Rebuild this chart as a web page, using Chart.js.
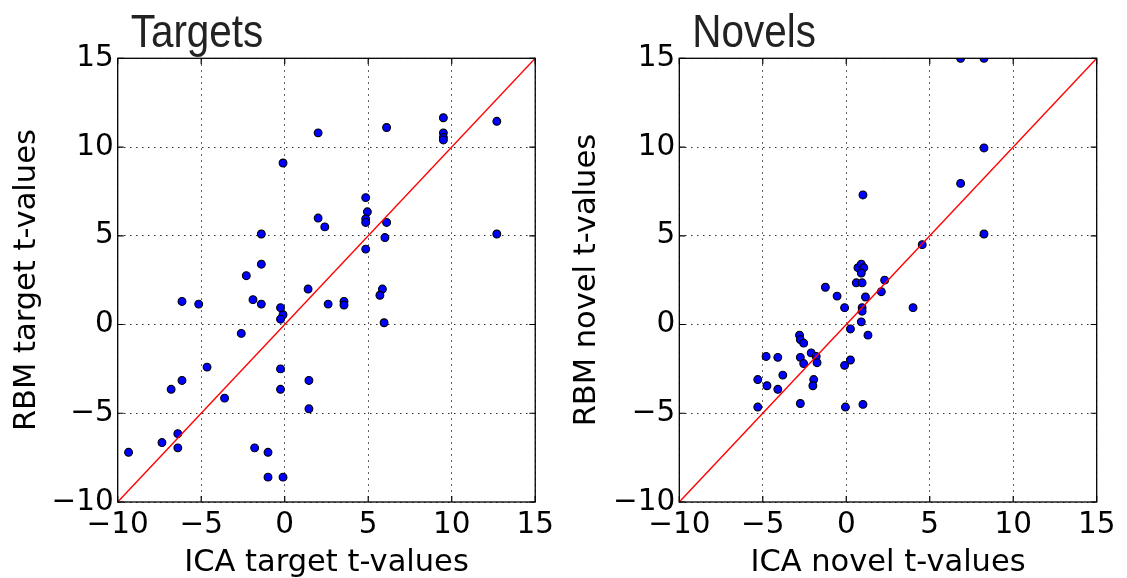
<!DOCTYPE html>
<html>
<head>
<meta charset="utf-8">
<script src="https://cdn.jsdelivr.net/npm/chart.js@4/dist/chart.umd.min.js"></script>
<style>
  html, body { margin: 0; padding: 0; background: #fff; }
  #wrap { position: relative; width: 1127px; height: 578px; }
  canvas { position: absolute; top: 0; }
</style>
</head>
<body>
<div id="wrap">
  <canvas id="c1" width="560" height="578" style="left:0;width:560px;height:578px"></canvas>
  <canvas id="c2" width="567" height="578" style="left:560px;width:567px;height:578px"></canvas>
</div>
<script>
// ---- data ----
const tgtICA = [2.0, -0.1, 2.0, 2.4, -1.4, -1.4, -2.3, 6.1, 9.5, 9.5, 9.5, 9.5, 12.7, 4.85, 4.95, 4.85, 4.85, 6.1, 6.0, 4.85, 12.7, 1.4, -6.15, -5.15, -1.9, -1.4, -0.25, -0.1, -0.25, 2.6, -2.6, -4.65, -0.25, 1.45, -6.15, -6.8, -0.25, -3.6, 1.45, -9.35, -7.35, -6.4, -6.4, -1.8, -1.0, -1.0, -0.1, 3.55, 3.55, 5.85, 5.7, 5.95];
const tgtRBM = [10.8, 9.1, 6.0, 5.5, 5.1, 3.4, 2.75, 11.1, 11.65, 10.8, 10.55, 10.4, 11.45, 7.15, 6.35, 5.95, 5.75, 5.75, 4.9, 4.25, 5.1, 2.0, 1.3, 1.15, 1.4, 1.15, 0.95, 0.55, 0.3, 1.15, -0.5, -2.4, -2.5, -3.15, -3.15, -3.65, -3.65, -4.15, -4.75, -7.2, -6.65, -6.15, -6.95, -6.95, -7.2, -8.6, -8.6, 1.3, 1.1, 2.0, 1.65, 0.1];
const novICA = [1.0, 0.7, 0.9, 1.05, 0.9, 2.3, 6.85, 8.25, 8.25, 6.85, 8.25, 4.55, 0.6, 0.95, -1.25, -0.55, 1.15, 2.1, -0.1, 0.95, 0.95, 0.9, 0.25, 1.3, -2.8, -2.75, -2.55, -2.1, -1.8, -1.75, -4.8, -4.1, -2.75, -2.55, -0.1, 0.25, -3.8, -5.3, -4.75, -4.1, -1.95, -2.0, -2.75, -5.3, -0.05, 1.0, 4.0];
const novRBM = [7.3, 3.2, 3.4, 3.2, 2.9, 2.5, 15, 15, 9.95, 7.95, 5.1, 4.5, 2.35, 2.35, 2.1, 1.6, 1.55, 1.85, 0.95, 0.95, 0.75, 0.15, -0.25, -0.6, -0.6, -0.85, -1.05, -1.6, -1.8, -2.15, -1.8, -1.85, -1.85, -2.2, -2.3, -2.0, -2.85, -3.1, -3.45, -3.65, -3.1, -3.45, -4.45, -4.65, -4.65, -4.5, 0.95];
const diagonal = [-10, 15];
const tickValues = [-10, -5, 0, 5, 10, 15];
const titles = ['Targets', 'Novels'];
const xLabels = ['ICA target t-values', 'ICA novel t-values'];
const yLabels = ['RBM target t-values', 'RBM novel t-values'];

const fmt = v => (v < 0 ? '\u2212' + Math.abs(v) : String(v));

const framePlugin = {
  id: 'frame',
  afterDatasetsDraw(chart, args, opts) {
    const { ctx, chartArea: a, scales } = chart;
    ctx.save();
    ctx.strokeStyle = '#000';
    ctx.lineWidth = 1.2;
    // inward ticks on all four sides
    const L = 6;
    ctx.beginPath();
    tickValues.forEach(v => {
      const px = scales.x.getPixelForValue(v);
      const py = scales.y.getPixelForValue(v);
      ctx.moveTo(px, a.bottom); ctx.lineTo(px, a.bottom - L);
      ctx.moveTo(px, a.top); ctx.lineTo(px, a.top + L);
      ctx.moveTo(a.left, py); ctx.lineTo(a.left + L, py);
      ctx.moveTo(a.right, py); ctx.lineTo(a.right - L, py);
    });
    ctx.stroke();
    ctx.lineWidth = 1.3;
    ctx.strokeRect(a.left, a.top, a.right - a.left, a.bottom - a.top);
    // panel title (condensed)
    ctx.fillStyle = '#222';
    ctx.font = '47px "Liberation Sans", Arial, sans-serif';
    ctx.textBaseline = 'alphabetic';
    ctx.textAlign = 'left';
    ctx.translate(a.left + 13, 46.5);
    ctx.scale(0.86, 1);
    ctx.fillText(opts.text, 0, 0);
    ctx.restore();
  }
};

function makeChart(id, idx, xs, ys, yAxisW, padRight) {
  const pts = xs.map((x, i) => ({ x: x, y: ys[i] }));
  const line = diagonal.map(v => ({ x: v, y: v }));
  const gridCfg = { color: '#333', lineWidth: 1, drawTicks: false };
  const borderCfg = { display: false, dash: [1.5, 4.5] };
  return new Chart(document.getElementById(id), {
    type: 'scatter',
    data: {
      datasets: [
        {
          type: 'line', data: line, borderColor: '#ff0000', borderWidth: 1.4,
          pointRadius: 0, fill: false, order: 0, clip: 0
        },
        {
          data: pts, backgroundColor: '#0000ff', borderColor: '#000',
          borderWidth: 1.1, pointRadius: 3.9, order: 1, clip: 0
        }
      ]
    },
    options: {
      responsive: false,
      animation: false,
      devicePixelRatio: 1,
      layout: { padding: { top: 58.3, right: padRight, left: 0, bottom: 0 } },
      plugins: {
        legend: { display: false },
        tooltip: { enabled: false },
        frame: { text: titles[idx] }
      },
      scales: {
        x: {
          type: 'linear', min: -10, max: 15,
          afterBuildTicks: s => { s.ticks = tickValues.map(v => ({ value: v })); },
          afterFit: s => { s.height = 76; },
          grid: gridCfg,
          border: borderCfg,
          ticks: { color: '#000', padding: 6, font: { family: 'DejaVu Sans', size: 29.5 }, callback: v => fmt(v), maxRotation: 0, autoSkip: false },
          title: { display: true, text: xLabels[idx], color: '#000', font: { family: 'DejaVu Sans', size: 30.5 }, padding: { top: 0, bottom: -3 } }
        },
        y: {
          type: 'linear', min: -10, max: 15,
          afterBuildTicks: s => { s.ticks = tickValues.map(v => ({ value: v })); },
          afterFit: s => { s.width = yAxisW; },
          grid: gridCfg,
          border: borderCfg,
          ticks: { color: '#000', padding: 4, font: { family: 'DejaVu Sans', size: 29.5 }, callback: v => fmt(v), autoSkip: false },
          title: { display: true, text: yLabels[idx], color: '#000', font: { family: 'DejaVu Sans', size: 30.5 }, padding: { top: 9, bottom: 0 } }
        }
      }
    },
    plugins: [framePlugin]
  });
}

makeChart('c1', 0, tgtICA, tgtRBM, 117.7, 22.3);
makeChart('c2', 1, novICA, novRBM, 119.3, 30.3);
</script>
</body>
</html>
